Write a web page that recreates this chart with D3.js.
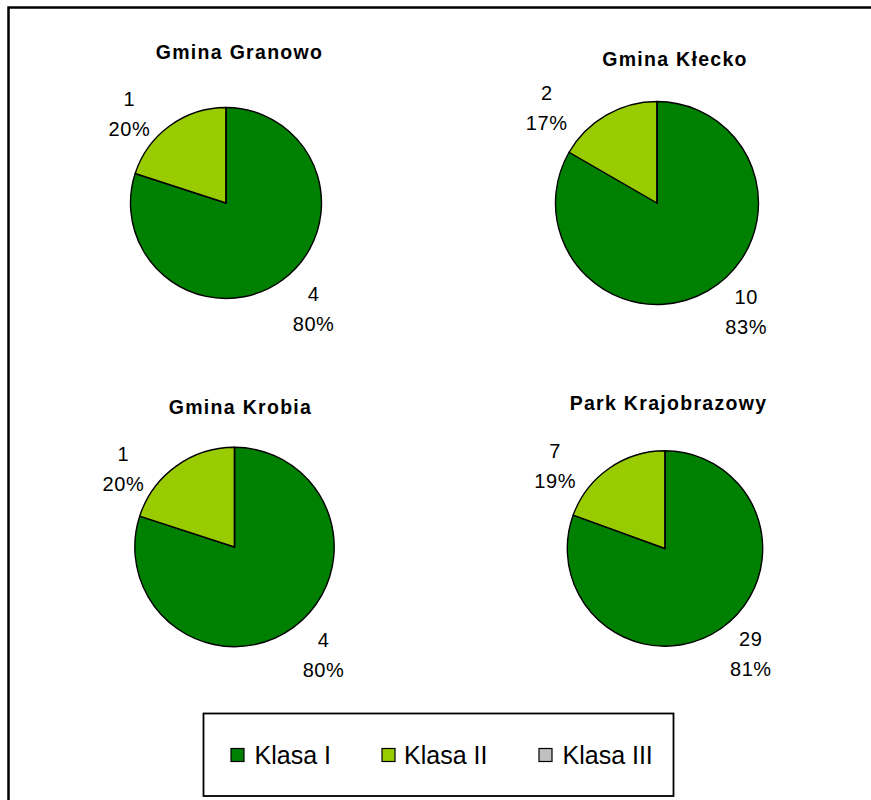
<!DOCTYPE html>
<html>
<head>
<meta charset="utf-8">
<script src="https://cdn.jsdelivr.net/npm/d3@7"></script>
<style>
  html, body { margin: 0; padding: 0; background: #fff; }
  svg { display: block; }
  text { font-family: "Liberation Sans", Arial, Helvetica, sans-serif; fill: #000; }
</style>
</head>
<body>
<svg id="chart" width="871" height="800"></svg>
<script>
// Number of sites per protection class in each area
const regions = ["Gmina Granowo", "Gmina Kłecko", "Gmina Krobia", "Park Krajobrazowy"];
const classes = ["Klasa I", "Klasa II", "Klasa III"];
const klasaI   = [4, 10, 4, 29];
const klasaII  = [1, 2, 1, 7];
const klasaIII = [0, 0, 0, 0];

const classColors = ["#008000", "#99CC00", "#C0C0C0"];

// Placement of each small pie: centre, radius, title anchor and label nudges
const layout = [
  { cx: 226,   cy: 203,   r: 95.5,  tx: 239.5, ty: 58.5, nudge: [[5, -8],  [-14, 24]] },
  { cx: 657,   cy: 203,   r: 101.5, tx: 675,   ty: 66,   nudge: [[16, -18], [-37, 31]] },
  { cx: 234.5, cy: 547,   r: 99.7,  tx: 240.5, ty: 414,  nudge: [[4, -10], [-26, 39]] },
  { cx: 665,   cy: 548.5, r: 97.7,  tx: 668.5, ty: 409.5, nudge: [[4, -12], [-28, 34]] }
];

const series = [klasaI, klasaII, klasaIII];
const svg = d3.select("#chart");

// Outer frame (runs past the right and bottom edges)
svg.append("rect")
  .attr("x", 8.5).attr("y", 7.5)
  .attr("width", 900).attr("height", 900)
  .attr("fill", "none").attr("stroke", "#000").attr("stroke-width", 2.5);

const pie = d3.pie().sort(null).value(d => d.value).startAngle(0).endAngle(2 * Math.PI);
const color = d3.scaleOrdinal().domain(classes).range(classColors);

regions.forEach((name, i) => {
  const L = layout[i];
  const rows = classes.map((c, k) => ({ cls: c, value: series[k][i] }));
  const total = d3.sum(rows, d => d.value);
  const arcs = pie(rows);
  const arc = d3.arc().innerRadius(0).outerRadius(L.r);

  const g = svg.append("g").attr("transform", `translate(${L.cx},${L.cy})`);

  g.selectAll("path.slice")
    .data(arcs)
    .join("path")
    .attr("class", "slice")
    .attr("d", arc)
    .attr("fill", d => color(d.data.cls))
    .attr("stroke", "#000")
    .attr("stroke-width", 1.4)
    .attr("stroke-linejoin", "round");

  // Title
  svg.append("text")
    .attr("x", L.tx).attr("y", L.ty)
    .attr("text-anchor", "middle")
    .style("font-size", "19.5px")
    .style("font-weight", "bold")
    .style("letter-spacing", "1.3px")
    .text(name);

  // Value + percentage labels outside each non-empty slice
  arcs.filter(d => d.data.value > 0).forEach((d, k) => {
    const mid = (d.startAngle + d.endAngle) / 2;
    const R = L.r + 45;
    const nx = L.nudge[k] ? L.nudge[k][0] : 0;
    const ny = L.nudge[k] ? L.nudge[k][1] : 0;
    const x = Math.sin(mid) * R + nx;
    const y = -Math.cos(mid) * R + ny;
    const pct = Math.round(d.data.value / total * 100) + "%";
    const t = g.append("text")
      .attr("text-anchor", "middle")
      .style("font-size", "20px")
      .style("letter-spacing", "0.6px");
    t.append("tspan").attr("x", x).attr("y", y - 15 + 7.5).text(d.data.value);
    t.append("tspan").attr("x", x).attr("y", y + 15 + 7.5).text(pct);
  });
});

// Legend
const legend = svg.append("g");
legend.append("rect")
  .attr("x", 203.5).attr("y", 713.5)
  .attr("width", 470).attr("height", 82.5)
  .attr("fill", "#fff").attr("stroke", "#000").attr("stroke-width", 1.8);

const legendX = d3.scalePoint().domain(classes).range([231, 539]);
const items = legend.selectAll("g.item")
  .data(classes)
  .join("g")
  .attr("class", "item")
  .attr("transform", c => `translate(${c === "Klasa II" ? 382 : legendX(c)},748.5)`);

items.append("rect")
  .attr("width", 13).attr("height", 13)
  .attr("fill", c => color(c))
  .attr("stroke", "#000").attr("stroke-width", 1.2);

items.append("text")
  .attr("x", c => c === "Klasa II" ? 22 : 23.5)
  .attr("y", 15.8)
  .style("font-size", "25px")
  .text(c => c);
</script>
</body>
</html>
